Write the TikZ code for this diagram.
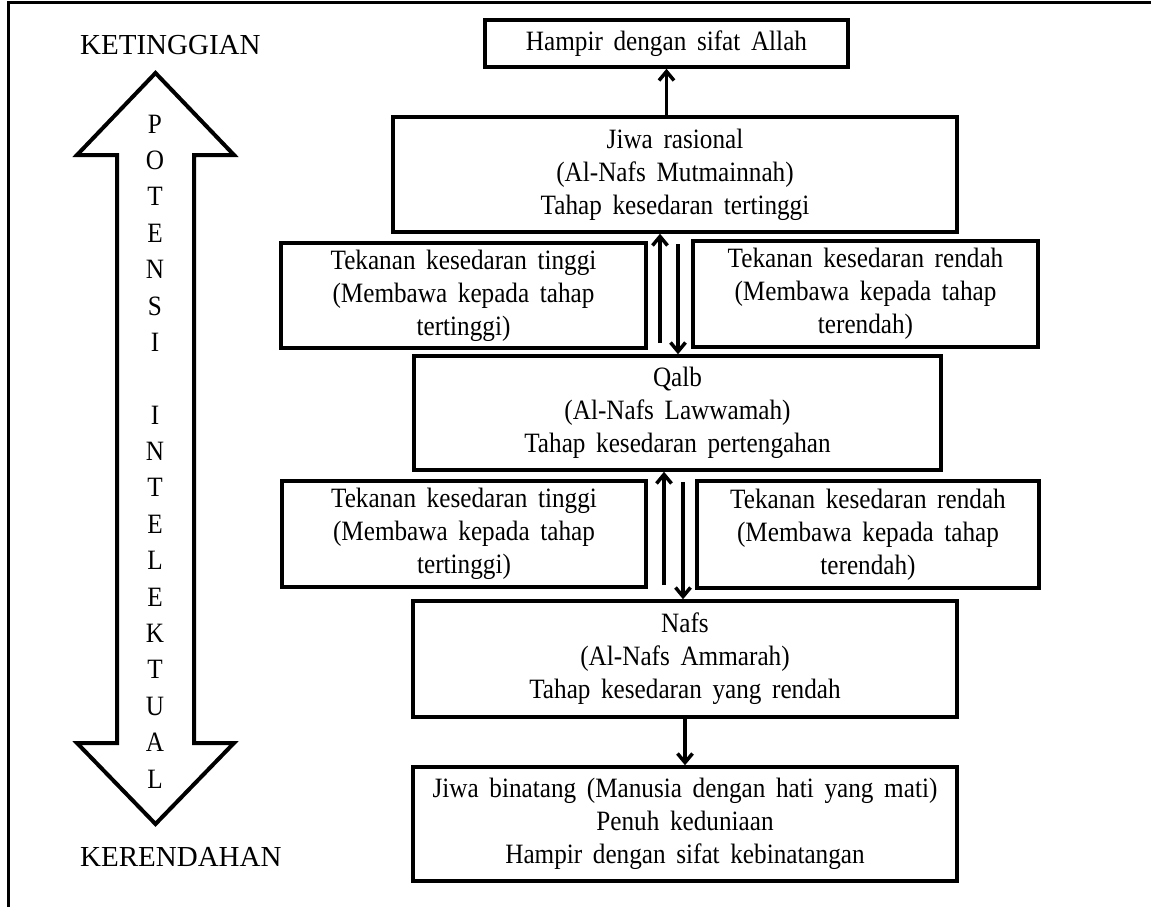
\documentclass[tikz,border=0pt]{standalone}
\usepackage{fontspec}
\setmainfont{Liberation Serif}[FakeStretch=0.9]
\newfontfamily\lblfont{Liberation Serif}
\usetikzlibrary{arrows.meta}
\newcommand\bxfont{\fontsize{28}{33}\selectfont\spaceskip=0.38em plus 0.1em\relax}
\begin{document}
\begin{tikzpicture}[x=1pt,y=-1pt]
\tikzstyle{bx}=[draw,line width=3.5pt,align=center,inner sep=0pt,font=\bxfont]
\tikzstyle{ar}=[line width=3.5pt,-{Straight Barb[length=9pt,width=15pt]}]
\tikzstyle{lt}=[inner sep=0pt,font=\fontsize{28}{33}\selectfont]
\tikzstyle{lb}=[anchor=west,inner sep=0pt,font=\lblfont\fontsize{29}{33}\selectfont]
\useasboundingbox (0,0) rectangle (1151,907);

% Frame
\draw[line width=3pt] (8.5,907) -- (8.5,2.5) -- (1151,2.5);

% Double arrow on the left
\draw[line width=4pt,miter limit=10] (155.5,73) -- (234,155) -- (194,155) -- (194,743)
  -- (234,743) -- (155.5,824) -- (77,743) -- (117,743) -- (117,155) -- (77,155) -- cycle;
\node[lb] (up) at (80,45) {KETINGGIAN};
\node[lb] (down) at (80,857) {KERENDAHAN};
\foreach \c [count=\i from 0] in {P,O,T,E,N,S,I}
  \node[lt] (p\i) at (155,124+36.4*\i) {\c};
\foreach \c [count=\i from 0] in {I,N,T,E,L,E,K,T,U,A,L}
  \node[lt] (q\i) at (155,415+36.4*\i) {\c};

% Levels
\node[bx,minimum width=363,minimum height=47] (allah) at (666.5,43.5) {Hampir dengan sifat Allah};
\node[bx,minimum width=564,minimum height=115] (rasional) at (675,174.5)
  {Jiwa rasional\\(Al-Nafs Mutmainnah)\\Tahap kesedaran tertinggi};
\node[bx,minimum width=365,minimum height=105] (ta) at (463.5,295.5)
  {Tekanan kesedaran tinggi\\(Membawa kepada tahap\\tertinggi)};
\node[bx,minimum width=345,minimum height=106] (ra) at (865.5,294)
  {Tekanan kesedaran rendah\\(Membawa kepada tahap\\terendah)};
\node[bx,minimum width=527,minimum height=114] (qalb) at (677.5,413)
  {Qalb\\(Al-Nafs Lawwamah)\\Tahap kesedaran pertengahan};
\node[bx,minimum width=364,minimum height=106] (tb) at (464,534)
  {Tekanan kesedaran tinggi\\(Membawa kepada tahap\\tertinggi)};
\node[bx,minimum width=342,minimum height=107] (rb) at (868,534.5)
  {Tekanan kesedaran rendah\\(Membawa kepada tahap\\terendah)};
\node[bx,minimum width=544,minimum height=116] (nafs) at (685,659)
  {Nafs\\(Al-Nafs Ammarah)\\Tahap kesedaran yang rendah};
\node[bx,minimum width=544,minimum height=114] (binatang) at (685,824)
  {Jiwa binatang (Manusia dengan hati yang mati)\\Penuh keduniaan\\Hampir dengan sifat kebinatangan};

% Arrows
\coordinate (u1) at (660,343);
\coordinate (d1) at (678,244);
\coordinate (u2) at (664,585);
\coordinate (d2) at (683,482);
\draw[ar] (rasional.north -| allah.south) -- (allah.south);
\draw[ar] (u1) -- (u1 |- rasional.south);
\draw[ar] (d1) -- (d1 |- qalb.north);
\draw[ar] (u2) -- (u2 |- qalb.south);
\draw[ar] (d2) -- (d2 |- nafs.north);
\draw[ar] (nafs.south) -- (binatang.north);
\end{tikzpicture}
\end{document}
